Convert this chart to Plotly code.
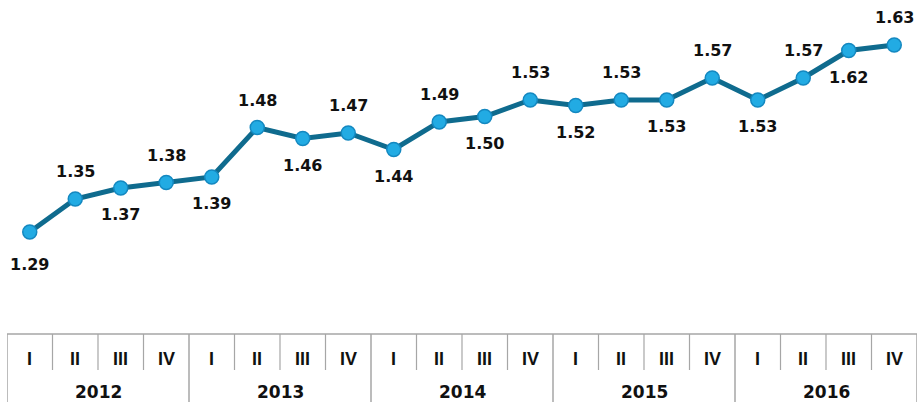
import plotly.graph_objects as go

years = ["2012", "2013", "2014", "2015", "2016"]
quarters = ["I", "II", "III", "IV"]
values = [1.29, 1.35, 1.37, 1.38, 1.39, 1.48, 1.46, 1.47, 1.44, 1.49,
          1.50, 1.53, 1.52, 1.53, 1.53, 1.57, 1.53, 1.57, 1.62, 1.63]

n = len(values)
xs = list(range(n))

LINE = "#0f6b8e"
FILL = "#22abe3"
EDGE = "#1488c0"
GRID = "#a6a6a6"
FONT = "DejaVu Sans"
QFONT = "Liberation Sans"

fig = go.Figure()
fig.add_trace(go.Scatter(
    x=xs, y=values, mode="lines+markers",
    line=dict(color=LINE, width=5),
    marker=dict(size=14, color=FILL, line=dict(color=EDGE, width=1.5)),
    cliponaxis=False, hoverinfo="skip", showlegend=False,
))

annotations = []
for i, v in enumerate(values):
    above = i % 2 == 1
    shift = 27 if above else -27
    if i == 0:
        shift = -33
    annotations.append(dict(
        x=i, y=v, xref="x", yref="y", text=f"{v:.2f}", showarrow=False,
        yshift=shift, font=dict(family=FONT, size=16, color="#111111", weight="bold"),
        xanchor="center", yanchor="middle",
    ))

plot_h = 402 - 68
bottom = -68 / plot_h
q_bottom = -36 / plot_h
q_label_y = -25 / plot_h
y_label_y = -58 / plot_h

shapes = []
shapes.append(dict(type="line", xref="x", yref="paper", x0=-0.5, x1=n - 0.5,
                   y0=0, y1=0, line=dict(color=GRID, width=1.5)))
for k in range(n + 1):
    xpos = k - 0.5
    full = (k % len(quarters) == 0)
    shapes.append(dict(type="line", xref="x", yref="paper", x0=xpos, x1=xpos,
                       y0=0, y1=bottom if full else q_bottom,
                       line=dict(color=GRID, width=1.5 if full else 1.2)))

for i in range(n):
    annotations.append(dict(
        x=i, y=q_label_y, xref="x", yref="paper", text=quarters[i % len(quarters)],
        showarrow=False, xanchor="center", yanchor="middle",
        font=dict(family=QFONT, size=18, color="#111111", weight="bold"),
    ))
for j, yr in enumerate(years):
    annotations.append(dict(
        x=j * len(quarters) + (len(quarters) - 1) / 2, y=y_label_y, xref="x", yref="paper",
        text=yr, showarrow=False, xanchor="center", yanchor="middle",
        font=dict(family=FONT, size=17, color="#111111", weight="bold"),
    ))

fig.update_layout(
    width=922, height=402,
    margin=dict(l=7, r=5, t=0, b=68),
    paper_bgcolor="white", plot_bgcolor="white",
    xaxis=dict(range=[-0.5, n - 0.5], visible=False, fixedrange=True),
    yaxis=dict(range=[1.1045, 1.7118], visible=False, fixedrange=True),
    shapes=shapes, annotations=annotations,
)

fig.write_html("out.html", config={"displayModeBar": False},
               post_script="document.body.style.margin='0';document.body.style.overflow='hidden';")
